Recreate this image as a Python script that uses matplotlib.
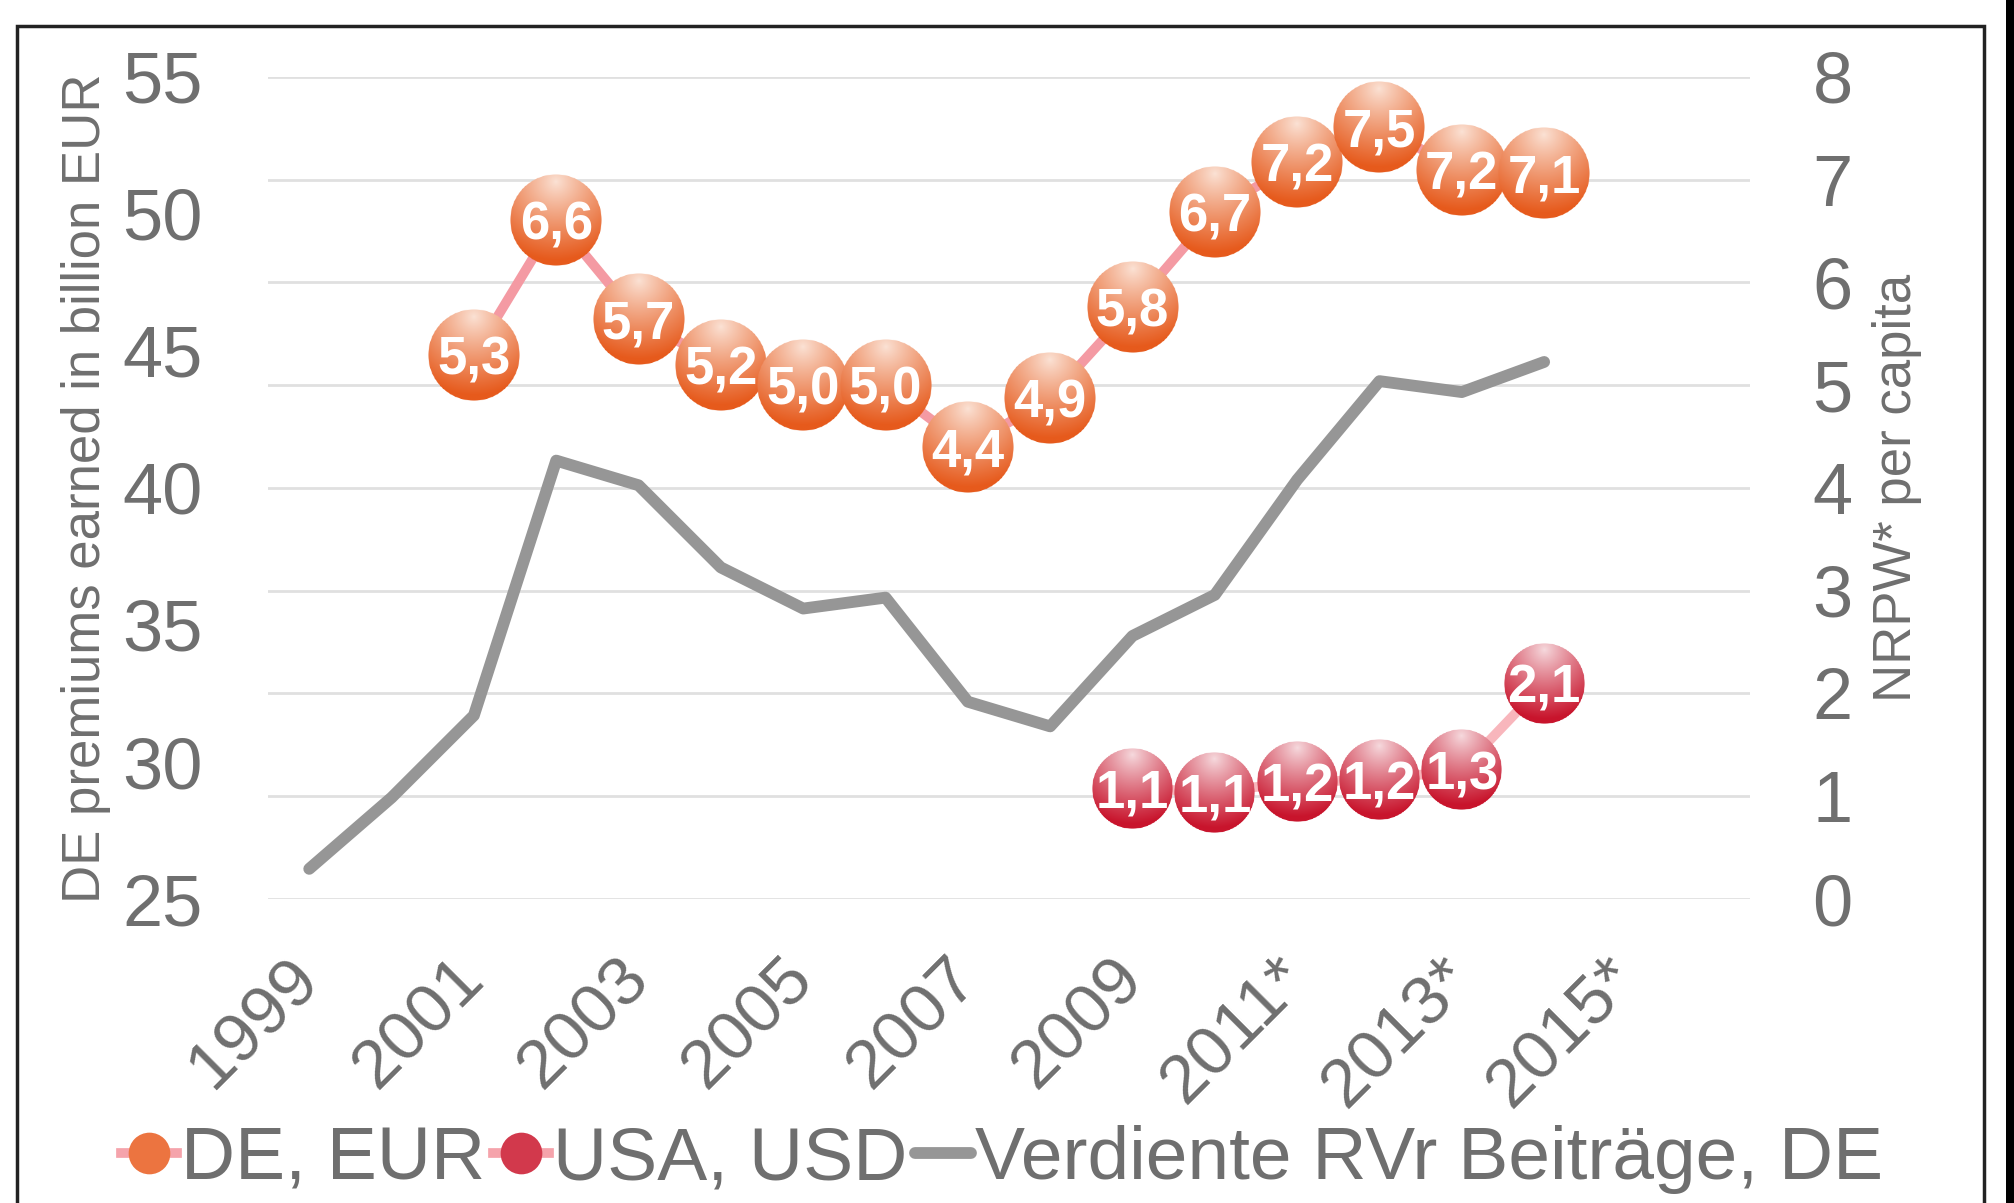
import numpy as np
import matplotlib
matplotlib.use("Agg")
import matplotlib.pyplot as plt
from matplotlib.offsetbox import OffsetImage, AnnotationBbox
from matplotlib.lines import Line2D
from matplotlib.patches import Rectangle

plt.rcParams["font.family"] = ["Liberation Sans", "DejaVu Sans"]

# categories on the x axis (one slot per year, 1999-2016)
years = list(range(1999, 2017))
tick_years = [1999, 2001, 2003, 2005, 2007, 2009, 2011, 2013, 2015]
tick_labels = ["1999", "2001", "2003", "2005", "2007", "2009", "2011*", "2013*", "2015*"]

# Verdiente RVr Beitraege, DE (left axis, bn EUR), 1999-2014
rvr_years = list(range(1999, 2015))
rvr_earned = [26.1, 28.7, 31.7, 41.0, 40.1, 37.1, 35.6, 36.0, 32.2, 31.3,
              34.6, 36.1, 40.3, 43.9, 43.5, 44.6]

# NRPW per capita, DE in EUR (right axis)
de_years = list(range(2001, 2015))
de_nrpw = [5.29, 6.61, 5.64, 5.2, 5.0, 5.0, 4.4, 4.88, 5.76, 6.69, 7.17, 7.51, 7.09, 7.07]
de_labels = ["5,3", "6,6", "5,7", "5,2", "5,0", "5,0", "4,4", "4,9", "5,8", "6,7",
             "7,2", "7,5", "7,2", "7,1"]

# NRPW per capita, USA in USD (right axis)
us_years = list(range(2009, 2015))
us_nrpw = [1.08, 1.04, 1.14, 1.16, 1.26, 2.10]
us_labels = ["1,1", "1,1", "1,2", "1,2", "1,3", "2,1"]

GREY_TXT = "#6f6f6f"
DPI = 100


def ball(light, dark, n=128):
    # shaded sphere: light spot near the top, saturated colour at the bottom
    yy, xx = np.mgrid[0:n, 0:n].astype(float)
    c = (n - 1) / 2
    r = np.hypot(xx - c, yy - c) / (n / 2)
    alpha = np.clip((1 - r) * n / 2, 0, 1)
    d = np.hypot(xx - c, yy - 0.08 * n) / n
    t = np.clip(d / 0.85, 0, 1) ** 0.9
    light = np.array(matplotlib.colors.to_rgb(light))
    dark = np.array(matplotlib.colors.to_rgb(dark))
    rgb = light[None, None, :] * (1 - t[..., None]) + dark[None, None, :] * t[..., None]
    return np.dstack([rgb, alpha])


def bubbles(ax, xs, vals, labels, img, diam):
    zoom = diam * 72 / (img.shape[0] * DPI)
    for x, v in zip(xs, vals):
        ab = AnnotationBbox(OffsetImage(img, zoom=zoom), (x, v), frameon=False,
                            pad=0, annotation_clip=False, zorder=3)
        ax.add_artist(ab)
    for x, v, s in zip(xs, vals, labels):
        ax.text(x, v, s, ha="center", va="center_baseline", color="white",
                fontsize=38, fontweight="bold", zorder=5)


fig = plt.figure(figsize=(20.14, 12.03), dpi=DPI)
ax = fig.add_axes([0.1331, 0.2527, 0.7358, 0.6833])
ax2 = ax.twinx()
ax.set_zorder(ax2.get_zorder() + 1)
ax.patch.set_visible(False)

xi = lambda ys: [years.index(y) for y in ys]

# right axis: grid + bubbles
ax2.set_ylim(0, 8)
ax2.set_yticks(range(0, 9))
ax2.grid(axis="y", color="#e0e0e0", lw=2)
ax2.plot(xi(de_years), de_nrpw, color="#f49aa3", lw=7, zorder=2)
ax2.plot(xi(us_years), us_nrpw, color="#f8b6bc", lw=7, zorder=2)
bubbles(ax2, xi(de_years), de_nrpw, de_labels, ball("#fbe2d5", "#e65a1c"), 92)
bubbles(ax2, xi(us_years), us_nrpw, us_labels, ball("#f6dade", "#c8142c"), 81)

# left axis: earned premiums
ax.plot(xi(rvr_years), rvr_earned, color="#969696", lw=8.5,
        solid_capstyle="round", solid_joinstyle="round")
ax.set_ylim(25, 55)
ax.set_yticks(range(25, 56, 5))
ax.set_xlim(-0.5, len(years) - 0.5)
ax.set_xticks(xi(tick_years))
ax.set_xticklabels(tick_labels, rotation=45, ha="right", va="center",
                   rotation_mode="anchor", fontsize=50, color=GREY_TXT)

for a in (ax, ax2):
    for s in a.spines.values():
        s.set_visible(False)
ax.tick_params(axis="x", length=0, pad=50)
ax.tick_params(axis="y", length=0, pad=47, labelsize=52, labelcolor=GREY_TXT)
ax2.tick_params(axis="y", length=0, pad=45, labelsize=52, labelcolor=GREY_TXT)

ax.set_ylabel("DE premiums earned in billion EUR", fontsize=38, color=GREY_TXT, labelpad=8)
ax2.set_ylabel("NRPW* per capita", fontsize=38, color=GREY_TXT, labelpad=14)

handles = [
    Line2D([], [], color="#f5a3ab", lw=7, marker="o", markersize=30,
           markerfacecolor="#ec7440", markeredgewidth=0),
    Line2D([], [], color="#f5a3ab", lw=7, marker="o", markersize=30,
           markerfacecolor="#d2394c", markeredgewidth=0),
    Line2D([], [], color="#969696", lw=8.5, solid_capstyle="round"),
]
fig.legend(handles, ["DE, EUR", "USA, USD", "Verdiente RVr Beiträge, DE"],
           loc="center", bbox_to_anchor=(0.4975, 0.036), ncol=3, frameon=False,
           fontsize=54, labelcolor=GREY_TXT, handlelength=0.75, handletextpad=0.05,
           columnspacing=0.1, borderaxespad=0, borderpad=0)

# outer frame of the original slide
fig.patches.append(Rectangle((0.0084, -0.02), 0.9767, 0.998, transform=fig.transFigure,
                             fill=False, lw=2.5, ec="#222222"))
fig.patches.append(Rectangle((0.996, 0), 0.01, 1, transform=fig.transFigure,
                             color="black", lw=0))

fig.savefig("out.png", dpi=DPI)
